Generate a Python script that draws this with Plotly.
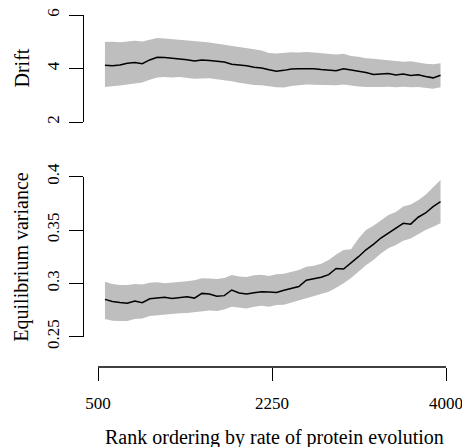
import plotly.graph_objects as go

W, H = 462, 447

rank = [570, 645, 720, 795, 870, 945, 1020, 1095, 1170, 1245, 1320, 1395, 1470, 1545, 1620,
        1695, 1770, 1845, 1920, 1995, 2070, 2145, 2220, 2295, 2370, 2445, 2520, 2595, 2670,
        2745, 2820, 2895, 2970, 3045, 3120, 3195, 3270, 3345, 3420, 3495, 3570, 3645, 3720,
        3795, 3870, 3945]

drift_mean = [4.12, 4.10, 4.13, 4.20, 4.22, 4.18, 4.32, 4.42, 4.41, 4.39, 4.36, 4.33, 4.28,
              4.32, 4.30, 4.27, 4.24, 4.16, 4.14, 4.10, 4.05, 4.02, 3.95, 3.90, 3.93, 3.98,
              3.99, 4.00, 3.99, 3.96, 3.94, 3.92, 3.99, 3.95, 3.91, 3.85, 3.78, 3.79, 3.81,
              3.76, 3.79, 3.74, 3.77, 3.70, 3.65, 3.75]
drift_upper = [4.99, 5.00, 4.98, 5.02, 5.04, 5.01, 5.08, 5.14, 5.12, 5.10, 5.07, 5.05, 5.02,
               5.00, 4.97, 4.93, 4.90, 4.85, 4.80, 4.76, 4.72, 4.67, 4.58, 4.56, 4.59, 4.61,
               4.60, 4.62, 4.60, 4.58, 4.55, 4.52, 4.55, 4.47, 4.44, 4.38, 4.36, 4.33, 4.32,
               4.28, 4.25, 4.27, 4.22, 4.18, 4.16, 4.20]
drift_lower = [3.31, 3.33, 3.36, 3.40, 3.44, 3.48, 3.58, 3.66, 3.68, 3.66, 3.68, 3.64, 3.62,
               3.63, 3.64, 3.60, 3.57, 3.52, 3.47, 3.42, 3.38, 3.37, 3.33, 3.30, 3.29, 3.35,
               3.37, 3.40, 3.39, 3.38, 3.36, 3.37, 3.40, 3.36, 3.33, 3.31, 3.30, 3.31, 3.32,
               3.30, 3.32, 3.30, 3.31, 3.28, 3.24, 3.30]

var_mean = [0.2850, 0.2830, 0.2820, 0.2813, 0.2834, 0.2819, 0.2856, 0.2860, 0.2869, 0.2858,
            0.2866, 0.2875, 0.2862, 0.2906, 0.2900, 0.2880, 0.2885, 0.2938, 0.2910, 0.2900,
            0.2912, 0.2922, 0.2920, 0.2915, 0.2935, 0.2955, 0.2970, 0.3030, 0.3045, 0.3058,
            0.3082, 0.3140, 0.3135, 0.3190, 0.3250, 0.3315, 0.3365, 0.3425, 0.3470, 0.3510,
            0.3563, 0.3555, 0.3620, 0.3660, 0.3719, 0.3766]
var_upper = [0.3016, 0.2995, 0.2985, 0.2985, 0.2995, 0.2990, 0.3006, 0.3010, 0.3000, 0.3005,
             0.3015, 0.3020, 0.3030, 0.3047, 0.3045, 0.3040, 0.3050, 0.3078, 0.3065, 0.3060,
             0.3075, 0.3080, 0.3069, 0.3085, 0.3090, 0.3110, 0.3125, 0.3156, 0.3165, 0.3185,
             0.3219, 0.3270, 0.3313, 0.3320, 0.3420, 0.3500, 0.3540, 0.3590, 0.3640, 0.3670,
             0.3720, 0.3740, 0.3780, 0.3830, 0.3900, 0.3969]
var_lower = [0.2666, 0.2650, 0.2648, 0.2647, 0.2665, 0.2670, 0.2694, 0.2700, 0.2712, 0.2715,
             0.2720, 0.2722, 0.2730, 0.2744, 0.2745, 0.2740, 0.2755, 0.2781, 0.2770, 0.2765,
             0.2780, 0.2790, 0.2781, 0.2797, 0.2800, 0.2820, 0.2840, 0.2860, 0.2880, 0.2895,
             0.2922, 0.2960, 0.3000, 0.3050, 0.3110, 0.3170, 0.3219, 0.3280, 0.3330, 0.3360,
             0.3400, 0.3420, 0.3460, 0.3500, 0.3530, 0.3563]

x_ticks = [500, 2250, 4000]
drift_ticks = [2, 4, 6]
drift_ticktext = ["2", "4", "6"]
var_ticks = [0.25, 0.3, 0.35, 0.4]
var_ticktext = ["0.25", "0.3", "0.35", "0.4"]

BAND = "#BEBEBE"
FONT = "Liberation Serif"
FS_TICK = 17
FS_TITLE = 20

fig = go.Figure()


def add_panel(y_lo, y_hi, y_mid, yaxis):
    fig.add_trace(go.Scatter(x=rank, y=y_lo, mode="lines", line=dict(width=0, color=BAND),
                             yaxis=yaxis, showlegend=False, hoverinfo="skip"))
    fig.add_trace(go.Scatter(x=rank, y=y_hi, mode="lines", line=dict(width=0, color=BAND),
                             fill="tonexty", fillcolor=BAND, yaxis=yaxis, showlegend=False,
                             hoverinfo="skip"))
    fig.add_trace(go.Scatter(x=rank, y=y_mid, mode="lines", line=dict(width=1.5, color="black"),
                             yaxis=yaxis, showlegend=False))


add_panel(drift_lower, drift_upper, drift_mean, "y")
add_panel(var_lower, var_upper, var_mean, "y2")

px_per_rank = 348 / 3500
x0 = 500 - 14 / px_per_rank
x1 = 4000 + 4 / px_per_rank

yax_common = dict(showgrid=False, zeroline=False, showline=True, linecolor="black", linewidth=1.3,
                  ticks="outside", ticklen=14, tickwidth=1.3, tickcolor="black", tickangle=-90,
                  tickfont=dict(family=FONT, size=FS_TICK, color="black"), automargin=False,
                  anchor="x", ticklabelstandoff=3, ticklabeloverflow="allow")

x_pos = 1 - 367 / H

fig.update_layout(
    width=W, height=H,
    margin=dict(l=0, r=0, t=0, b=0),
    paper_bgcolor="white", plot_bgcolor="white",
    font=dict(family=FONT, size=FS_TICK, color="black"),
    xaxis=dict(domain=[84 / W, 450 / W], range=[x0, x1], showgrid=False, zeroline=False,
               showline=False, ticks="outside", ticklen=13, tickwidth=1.3, tickcolor="black",
               tickvals=x_ticks, ticktext=[str(v) for v in x_ticks], anchor="free",
               position=x_pos, automargin=False, ticklabeloverflow="allow",
               ticklabelstandoff=8,
               tickfont=dict(family=FONT, size=FS_TICK, color="black")),
    yaxis=dict(domain=[1 - 122 / H, 1 - 15 / H], range=[2, 6], tickvals=drift_ticks,
               ticktext=drift_ticktext, **yax_common),
    yaxis2=dict(domain=[1 - 336.7 / H, 1 - 176.7 / H], range=[0.25, 0.4], tickvals=var_ticks,
                ticktext=var_ticktext, **yax_common),
    shapes=[dict(type="line", xref="x", yref="paper", x0=x_ticks[0], x1=x_ticks[-1],
                 y0=x_pos, y1=x_pos, line=dict(color="black", width=1.3))],
    annotations=[
        dict(text="Drift", x=22 / W, y=1 - 68.5 / H, xref="paper", yref="paper",
             textangle=-90, showarrow=False, xanchor="center", yanchor="middle",
             font=dict(family=FONT, size=FS_TITLE, color="black")),
        dict(text="Equilibrium variance", x=22 / W, y=1 - 256.7 / H, xref="paper", yref="paper",
             textangle=-90, showarrow=False, xanchor="center", yanchor="middle",
             font=dict(family=FONT, size=FS_TITLE, color="black")),
        dict(text="Rank ordering by rate of protein evolution", x=274 / W, y=1 - 437 / H,
             xref="paper", yref="paper", showarrow=False, xanchor="center", yanchor="middle",
             font=dict(family=FONT, size=FS_TITLE, color="black")),
    ],
)

fig.write_html("out.html", config={"displayModeBar": False},
               post_script="document.body.style.margin='0';document.body.style.overflow='hidden';")
